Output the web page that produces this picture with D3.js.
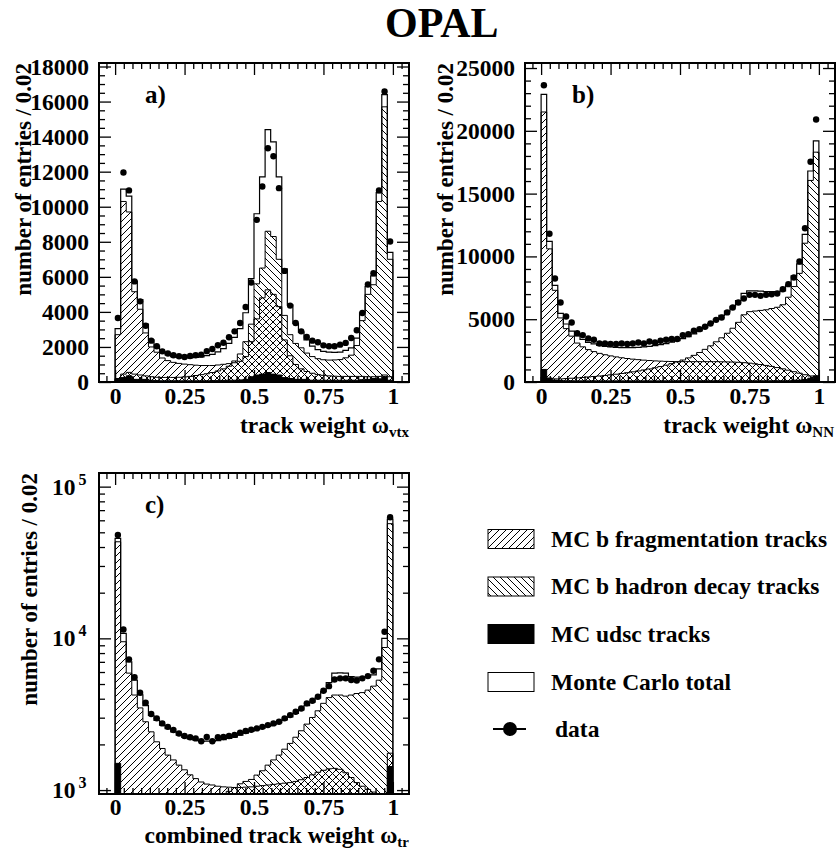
<!DOCTYPE html>
<html><head><meta charset="utf-8">
<script src="https://cdn.jsdelivr.net/npm/d3@7"></script>
<style>
body{margin:0;background:#fff}
svg{display:block}
text{font-family:"Liberation Serif","Times New Roman",serif;font-weight:bold;fill:#000}
</style>
</head><body>
<svg id="chart" width="836" height="851"></svg>
<script>
// ---------------- data ----------------
const binWidth = 0.02;
const xTickValues = [0, 0.25, 0.5, 0.75, 1];
const xTickLabels = ["0", "0.25", "0.5", "0.75", "1"];
const yTicksVtx = [0, 2000, 4000, 6000, 8000, 10000, 12000, 14000, 16000, 18000];
const yTicksNN = [0, 5000, 10000, 15000, 20000, 25000];
const yTicksTr = [1000, 10000, 100000];
const yTicksTrExp = ["3", "4", "5"];

// panel a) omega_vtx
const vtxData = [3650, 11950, 10930, 5740, 4600, 3210, 2360, 2040, 1750, 1630, 1530, 1470, 1430, 1480, 1530, 1560, 1760, 1880, 2100, 2240, 2550, 2890, 3370, 4280, 5680, 9250,
  11150, 13340, 12880, 11060, 6340, 4360, 3370, 2890, 2570, 2360, 2265, 2090, 2040, 2040, 2130, 2230, 2510, 2950, 3940, 5560, 6210, 10930, 16570, 8020];
const vtxTotal = [3050, 11000, 10600, 5750, 4700, 3300, 2400, 2050, 1700, 1550, 1450, 1400, 1380, 1380, 1400, 1430, 1500, 1580, 1720, 1900, 2200, 2550, 3050, 3950, 5900,
  9600, 11700, 14400, 13700, 11700, 6450, 4400, 3350, 2850, 2400, 2050, 1850, 1750, 1700, 1690, 1700, 1800, 1950, 2500, 3950, 5450, 6050, 10800, 16400, 7400];
const vtxBfrag = [2700, 10300, 9700, 5150, 4150, 2800, 2000, 1700, 1370, 1220, 1120, 1060, 1020, 990, 960, 940, 940, 940, 970, 1010, 1050, 1100, 1180, 1450, 2300,
  3600, 4800, 5260, 5000, 4300, 2400, 1500, 1000, 750, 600, 500, 420, 380, 350, 330, 320, 320, 320, 320, 320, 300, 300, 320, 400, 300];
const vtxBdecay = [200, 450, 550, 450, 400, 350, 300, 270, 260, 260, 260, 270, 290, 320, 370, 420, 470, 540, 630, 750, 900, 1200, 1600, 2300, 3300,
  5600, 6500, 8600, 8300, 7000, 3800, 2700, 2200, 1950, 1650, 1450, 1330, 1270, 1250, 1260, 1280, 1380, 1530, 2080, 3500, 5000, 5550, 10300, 15700, 7000];
const vtxUdsc = [150, 250, 350, 150, 150, 150, 100, 80, 70, 70, 70, 70, 70, 70, 70, 70, 70, 80, 80, 90, 100, 100, 120, 150, 300,
  400, 450, 540, 450, 400, 250, 200, 150, 150, 150, 100, 100, 100, 100, 100, 100, 100, 100, 100, 130, 150, 200, 180, 300, 100];

// panel b) omega_NN
const nnData = [23630, 11810, 8240, 6330, 5220, 4740, 3890, 3735, 3470, 3360, 3070, 3070, 3020, 3020, 3070, 3020, 3070, 3150, 3070, 3230,
  3150, 3280, 3360, 3420, 3420, 3735, 3810, 4080, 4210, 4400, 4660, 4950, 5140, 5540, 5930, 6330, 6650, 6940, 6940, 6860,
  6940, 6990, 7050, 7390, 7790, 8320, 9590, 12240, 17540, 20900];
const nnTotal = [22900, 11200, 7700, 5470, 4620, 4050, 3670, 3400, 3150, 3030, 2920, 2840, 2790, 2760, 2740, 2730, 2740, 2760, 2800, 2840,
  2900, 2970, 3060, 3170, 3300, 3450, 3620, 3830, 4060, 4320, 4660, 4980, 5300, 5650, 6030, 6480, 7050, 7260, 7250, 7230,
  7190, 7190, 7180, 7250, 7700, 8450, 9400, 11750, 16800, 19200];
const nnBfrag = [21500, 10600, 7300, 5100, 4250, 3650, 3100, 2800, 2580, 2420, 2280, 2170, 2080, 2000, 1930, 1870, 1820, 1780, 1740, 1710,
  1680, 1660, 1640, 1630, 1620, 1620, 1620, 1620, 1620, 1620, 1620, 1620, 1610, 1600, 1590, 1570, 1540, 1500, 1450, 1390,
  1320, 1240, 1150, 1050, 940, 820, 700, 580, 480, 420];
const nnBdecay = [400, 300, 250, 250, 270, 300, 330, 360, 400, 440, 480, 520, 570, 620, 680, 740, 810, 880, 960, 1040,
  1130, 1230, 1340, 1460, 1600, 1750, 1920, 2120, 2350, 2600, 2880, 3200, 3520, 3880, 4280, 4750, 5350, 5600, 5650, 5700,
  5750, 5850, 5950, 6150, 6750, 7600, 8650, 11050, 16050, 18300];
const nnUdsc = [1000, 300, 150, 120, 100, 100, 90, 90, 90, 90, 90, 90, 90, 90, 90, 90, 90, 90, 90, 90,
  90, 90, 90, 90, 100, 100, 100, 100, 100, 100, 100, 100, 100, 100, 100, 100, 100, 100, 100, 100,
  100, 100, 100, 100, 100, 150, 150, 200, 300, 500];

// panel c) omega_tr (log scale)
const trData = [48000, 11450, 7270, 5540, 4380, 3760, 3170, 2970, 2750, 2610, 2490, 2360, 2270, 2230, 2190, 2100, 2240, 2100, 2230, 2240,
  2270, 2310, 2390, 2450, 2500, 2550, 2610, 2680, 2750, 2820, 2970, 3120, 3280, 3450, 3730, 3880, 4120, 4510, 4840, 5360,
  5450, 5450, 5310, 5280, 5450, 5640, 6120, 7270, 11050, 62800];
const trTotal = [45600, 10800, 7000, 5300, 4250, 3600, 3100, 2880, 2680, 2540, 2420, 2300, 2220, 2170, 2130, 2090, 2100, 2090, 2120, 2150,
  2190, 2230, 2300, 2370, 2440, 2500, 2560, 2630, 2700, 2780, 2900, 3040, 3200, 3380, 3600, 3800, 4050, 4450, 5100, 5900,
  5930, 5900, 5600, 5550, 5550, 5580, 5750, 6300, 10000, 61000];
const trBfrag = [43300, 9500, 5900, 4230, 3480, 2820, 2420, 2080, 1880, 1700, 1580, 1460, 1360, 1260, 1190, 1130, 1095, 1080, 1060, 1050,
  1045, 1040, 1040, 1045, 1050, 1060, 1070, 1080, 1090, 1100, 1110, 1120, 1140, 1170, 1210, 1260, 1310, 1350, 1380, 1390,
  1370, 1300, 1210, 1120, 1060, 1010, 970, 940, 900, 1750];
const trBdecay = [900, 600, 500, 450, 430, 420, 420, 430, 440, 460, 480, 500, 530, 560, 600, 640, 690, 750, 820, 900,
  980, 1040, 1100, 1140, 1175, 1255, 1340, 1460, 1580, 1700, 1860, 2030, 2230, 2460, 2720, 3010, 3330, 3730, 4070, 4230,
  4230, 4160, 4230, 4330, 4390, 4560, 4840, 5300, 8700, 57000];
const trUdsc = [1500, 400, 350, 300, 300, 300, 300, 300, 300, 300, 300, 300, 300, 300, 300, 300, 300, 300, 300, 300,
  300, 300, 300, 300, 300, 300, 300, 300, 300, 300, 300, 300, 300, 300, 300, 300, 300, 300, 300, 300,
  300, 300, 300, 300, 300, 300, 300, 300, 300, 1430];

const legendLabels = ["MC b fragmentation tracks", "MC b hadron decay tracks", "MC udsc tracks", "Monte Carlo total", "data"];

// ---------------- drawing ----------------
const svg = d3.select("#chart");
const defs = svg.append("defs");
function hatch(id, up) {
  const s = 7;
  const p = defs.append("pattern").attr("id", id).attr("patternUnits", "userSpaceOnUse")
    .attr("width", s).attr("height", s);
  const d = up
    ? `M0,${s}L${s},0M${-s/2},${s/2}L${s/2},${-s/2}M${s/2},${s*1.5}L${s*1.5},${s/2}`
    : `M0,0L${s},${s}M${-s/2},${s/2}L${s/2},${s*1.5}M${s/2},${-s/2}L${s*1.5},${s/2}`;
  p.append("path").attr("d", d).attr("stroke", "#000").attr("stroke-width", 1).attr("fill", "none");
}
hatch("hFrag", true);
hatch("hDecay", false);

const FS_TICK = 23.5;

function drawPanel(o) {
  const g = svg.append("g");
  const x = d3.scaleLinear().domain([-0.058, 1.058]).range([o.left, o.right]);
  const y = (o.log ? d3.scaleLog() : d3.scaleLinear()).domain(o.yDomain).range([o.bottom, o.top]).clamp(true);

  defs.append("clipPath").attr("id", "clip" + o.id).append("rect")
    .attr("x", o.left).attr("y", o.top).attr("width", o.right - o.left).attr("height", o.bottom - o.top);
  const plot = g.append("g").attr("clip-path", `url(#clip${o.id})`);

  const step = vals => {
    let d = `M${x(0)},${o.bottom}`;
    vals.forEach((v, i) => {
      const yy = y(v);
      d += `L${x(i * binWidth)},${yy}L${x((i + 1) * binWidth)},${yy}`;
    });
    return d + `L${x(vals.length * binWidth)},${o.bottom}Z`;
  };
  plot.append("path").attr("d", step(o.total)).attr("fill", "#fff").attr("stroke", "#000").attr("stroke-width", 1.2);
  plot.append("path").attr("d", step(o.bdecay)).attr("fill", "url(#hDecay)").attr("stroke", "#000").attr("stroke-width", 1);
  plot.append("path").attr("d", step(o.bfrag)).attr("fill", "url(#hFrag)").attr("stroke", "#000").attr("stroke-width", 1);
  plot.append("path").attr("d", step(o.udsc)).attr("fill", "#000").attr("stroke", "#000").attr("stroke-width", 1);

  plot.selectAll("circle.dat").data(o.data).join("circle").attr("class", "dat")
    .attr("cx", (d, i) => x((i + 0.5) * binWidth)).attr("cy", d => y(d)).attr("r", 3.2).attr("fill", "#000");

  // ticks via d3 axes (inward)
  const xMinor = d3.range(-2, 35).map(k => k / 32).filter(v => v >= -0.058 && v <= 1.058 && Math.round(v * 32) % 8 !== 0);
  const clean = sel => { sel.select(".domain").remove(); sel.selectAll(".tick line").attr("stroke", "#000").attr("stroke-width", 1.3); sel.selectAll("text").remove(); };
  g.append("g").attr("transform", `translate(0,${o.bottom})`).call(d3.axisBottom(x).tickValues(xTickValues).tickSize(-12)).call(clean);
  g.append("g").attr("transform", `translate(0,${o.bottom})`).call(d3.axisBottom(x).tickValues(xMinor).tickSize(-6)).call(clean);
  g.append("g").attr("transform", `translate(0,${o.top})`).call(d3.axisTop(x).tickValues(xTickValues).tickSize(-12)).call(clean);
  g.append("g").attr("transform", `translate(0,${o.top})`).call(d3.axisTop(x).tickValues(xMinor).tickSize(-6)).call(clean);
  g.append("g").attr("transform", `translate(${o.left},0)`).call(d3.axisLeft(y).tickValues(o.yMajor).tickSize(-12)).call(clean);
  g.append("g").attr("transform", `translate(${o.left},0)`).call(d3.axisLeft(y).tickValues(o.yMinor).tickSize(-6)).call(clean);
  g.append("g").attr("transform", `translate(${o.right},0)`).call(d3.axisRight(y).tickValues(o.yMajor).tickSize(-12)).call(clean);
  g.append("g").attr("transform", `translate(${o.right},0)`).call(d3.axisRight(y).tickValues(o.yMinor).tickSize(-6)).call(clean);

  // frame
  g.append("rect").attr("x", o.left).attr("y", o.top).attr("width", o.right - o.left).attr("height", o.bottom - o.top)
    .attr("fill", "none").attr("stroke", "#000").attr("stroke-width", 2);

  // x tick labels
  const xl = g.append("g").attr("transform", `translate(0,${o.bottom})`)
    .call(d3.axisBottom(x).tickValues(xTickValues).tickFormat((d, i) => xTickLabels[i]).tickSize(0).tickPadding(o.xPad));
  xl.select(".domain").remove();
  xl.selectAll("text").attr("font-size", FS_TICK).attr("font-family", null).style("font-weight", "bold");

  // y tick labels
  if (!o.log) {
    const yl = g.append("g").attr("transform", `translate(${o.left},0)`)
      .call(d3.axisLeft(y).tickValues(o.yMajor).tickFormat(d3.format("d")).tickSize(0).tickPadding(10));
    yl.select(".domain").remove();
    yl.selectAll("text").attr("font-size", FS_TICK).attr("font-family", null).style("font-weight", "bold");
  } else {
    const t = g.selectAll("text.ylog").data(yTicksTr).join("text").attr("class", "ylog")
      .attr("x", o.left - 47).attr("y", d => y(d) + 8).attr("font-size", FS_TICK);
    t.append("tspan").text("10");
    t.append("tspan").attr("dx", 3).attr("dy", -10).attr("font-size", 16).text((d, i) => yTicksTrExp[i]);
  }

  // axis titles
  g.append("text").attr("transform", `translate(${o.yTitleX},${o.top}) rotate(-90)`)
    .attr("text-anchor", "end").attr("font-size", 23).text("number of entries / 0.02");
  const xt = g.append("text").attr("x", o.xTitleEnd).attr("y", o.bottom + o.xTitleDy).attr("text-anchor", "end").attr("font-size", 23.5);
  xt.append("tspan").text(o.xTitle);
  xt.append("tspan").attr("dy", 4).attr("font-size", 15).text(o.xSub);

  g.append("text").attr("x", o.labelX).attr("y", o.top + 40).attr("font-size", 25).text(o.label);
}

drawPanel({id: "a", left: 99, right: 409, top: 63, bottom: 382, yDomain: [0, 18200],
  yMajor: yTicksVtx, yMinor: d3.range(500, 18200, 500).filter(v => v % 2000 !== 0),
  data: vtxData, total: vtxTotal, bfrag: vtxBfrag, bdecay: vtxBdecay, udsc: vtxUdsc, xPad: 5.5,
  yTitleX: 31, xTitle: "track weight \u03c9", xSub: "vtx", xTitleEnd: 409, xTitleDy: 51, label: "a)", labelX: 145});

drawPanel({id: "b", left: 525, right: 835, top: 63, bottom: 382, yDomain: [0, 25400],
  yMajor: yTicksNN, yMinor: d3.range(1000, 25400, 1000).filter(v => v % 5000 !== 0),
  data: nnData, total: nnTotal, bfrag: nnBfrag, bdecay: nnBdecay, udsc: nnUdsc, xPad: 5.5,
  yTitleX: 453, xTitle: "track weight \u03c9", xSub: "NN", xTitleEnd: 834, xTitleDy: 51, label: "b)", labelX: 572});

const trMinor = [];
[1000, 10000].forEach(dec => { for (let m = 2; m <= 9; m++) trMinor.push(m * dec); });
drawPanel({id: "c", left: 99, right: 409, top: 473, bottom: 794, yDomain: [942, 123000], log: true,
  yMajor: yTicksTr, yMinor: trMinor,
  data: trData, total: trTotal, bfrag: trBfrag, bdecay: trBdecay, udsc: trUdsc, xPad: 4.5,
  yTitleX: 37, xTitle: "combined track weight \u03c9", xSub: "tr", xTitleEnd: 409, xTitleDy: 48.5, label: "c)", labelX: 145});

// title
svg.append("text").attr("x", 385).attr("y", 37).attr("font-size", 42).text("OPAL");

// legend
const lg = svg.append("g");
const rowsY = [539, 586.5, 634, 682, 729];
const boxFills = ["url(#hFrag)", "url(#hDecay)", "#000", "#fff"];
boxFills.forEach((f, i) => {
  lg.append("rect").attr("x", 488).attr("y", rowsY[i] - 9.5).attr("width", 46).attr("height", 19)
    .attr("fill", f).attr("stroke", "#000").attr("stroke-width", 1);
});
lg.append("line").attr("x1", 493).attr("x2", 526).attr("y1", rowsY[4]).attr("y2", rowsY[4]).attr("stroke", "#000").attr("stroke-width", 2);
lg.append("circle").attr("cx", 510).attr("cy", rowsY[4]).attr("r", 7).attr("fill", "#000");
lg.selectAll("text.leg").data(legendLabels).join("text").attr("class", "leg")
  .attr("x", (d, i) => i === 4 ? 555 : 551).attr("y", (d, i) => rowsY[i] + 7.5)
  .attr("font-size", 23.5).text(d => d);
</script>
</body></html>
